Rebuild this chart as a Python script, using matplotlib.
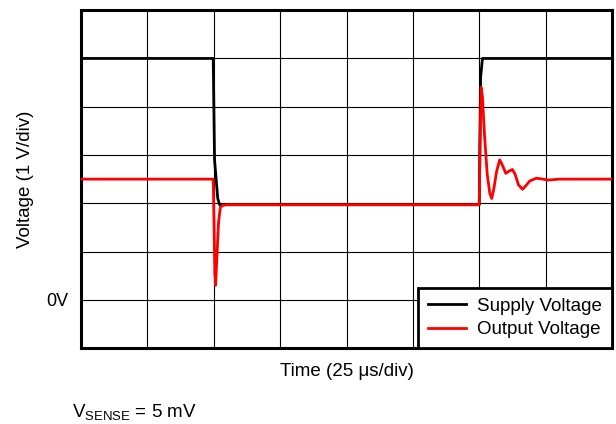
import numpy as np
import matplotlib.pyplot as plt

plt.rcParams['font.family'] = ['Liberation Sans', 'DejaVu Sans']
plt.rcParams['mathtext.fontset'] = 'custom'
plt.rcParams['mathtext.rm'] = 'Liberation Sans'

# time in us, voltage in V (scope trace)
t_supply = [0, 49.8, 50.3, 51.5, 52.2, 150.0, 150.5, 151.2, 200]
v_supply = [5.0, 5.0, 2.9, 2.1, 1.97, 1.97, 4.6, 5.0, 5.0]

t_out = [0, 49.8, 50.1, 50.4, 50.7, 51.2, 51.8, 52.5, 53.5, 55, 150.0,
         150.3, 150.7, 151.2, 152.0, 153.0, 154.0, 154.7, 155.5, 156.5,
         157.7, 158.8, 160.0, 161.0, 162.5, 163.5, 164.8, 166.3, 167.5,
         169.0, 171.5, 174.0, 176.0, 180.0, 200]
v_out = [2.5, 2.5, 1.6, 0.55, 0.3, 0.9, 1.6, 1.92, 1.96, 1.97, 1.97,
         3.2, 4.4, 4.2, 3.4, 2.6, 2.2, 2.1, 2.3, 2.65,
         2.9, 2.78, 2.62, 2.66, 2.7, 2.6, 2.38, 2.29, 2.36,
         2.46, 2.52, 2.5, 2.48, 2.5, 2.5]

fig = plt.figure(figsize=(6.16, 4.24), dpi=100)
ax = fig.add_axes([0.1315, 0.179, 0.862, 0.797])

ax.plot(t_supply, v_supply, color='black', lw=2, label='Supply Voltage', zorder=3)
ax.plot(t_out, v_out, color='red', lw=2, label='Output Voltage', zorder=4)

ax.set_xlim(0, 200)
ax.set_ylim(-1, 6)
ax.set_xticks(np.arange(0, 201, 25))
ax.set_xticklabels([])
ax.set_yticks(np.arange(-1, 7, 1))
ax.set_yticklabels(['' if v != 0 else '0V' for v in range(-1, 7)], fontsize=13)
ax.tick_params(axis='y', length=0, pad=9)
ax.tick_params(axis='x', length=0, pad=0)
ax.grid(True, color='black', lw=0.8)
for s in ax.spines.values():
    s.set_linewidth(2.2)

ax.set_xlabel('Time (25 μs/div)', fontsize=13.5, labelpad=11)
ax.set_ylabel('Voltage (1 V/div)', fontsize=13.5, labelpad=9)

leg = ax.legend(loc='lower right', borderaxespad=0, fancybox=False,
                edgecolor='black', fontsize=13.5, handlelength=2.0,
                handletextpad=0.6, labelspacing=0.32, borderpad=0.53,
                framealpha=1)
leg.get_frame().set_linewidth(2)

fig.text(0.117, 0.016, r'V$_{\mathrm{SENSE}}$ = 5 mV', fontsize=13.5)

fig.savefig('out.png', dpi=100)
